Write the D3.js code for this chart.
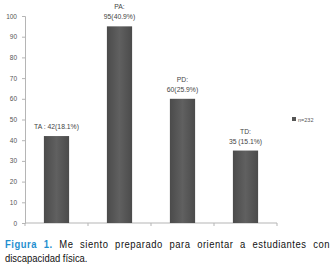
<!DOCTYPE html>
<html>
<head>
<meta charset="utf-8">
<script src="https://cdn.jsdelivr.net/npm/d3@7"></script>
<style>
  body { margin: 0; background: #fff; }
  svg { display: block; font-family: "Liberation Sans", Arial, sans-serif; }
</style>
</head>
<body>
<svg width="336" height="274"></svg>
<script>
// datos
const categories = ["TA", "PA", "PD", "TD"];
const values = [42, 95, 60, 35];
const barLabels = [["TA : 42(18.1%)"], ["PA:", "95(40.9%)"], ["PD:", "60(25.9%)"], ["TD:", "35 (15.1%)"]];
const yTicks = [0, 10, 20, 30, 40, 50, 60, 70, 80, 90, 100];
const legendLabel = "n=232";

const data = categories.map((c, i) => ({ category: c, value: values[i], label: barLabels[i] }));

const svg = d3.select("svg");
const plot = { left: 25, right: 277, top: 16, bottom: 223 };

// escalas
const x = d3.scaleBand()
    .domain(categories)
    .range([plot.left, plot.right])
    .paddingInner(0.6)
    .paddingOuter(0.3);

const y = d3.scaleLinear()
    .domain([0, 100])
    .range([plot.bottom, plot.top]);

// degradado de las barras
const grad = svg.append("defs").append("linearGradient")
    .attr("id", "barGrad")
    .attr("x1", "0%").attr("x2", "100%");
grad.append("stop").attr("offset", "0%").attr("stop-color", "#4b4b4b");
grad.append("stop").attr("offset", "50%").attr("stop-color", "#606060");
grad.append("stop").attr("offset", "100%").attr("stop-color", "#4b4b4b");

// eje Y
const yAxis = svg.append("g")
    .attr("transform", `translate(${plot.left},0)`)
    .call(d3.axisLeft(y).tickValues(yTicks).tickSize(3).tickPadding(5));
yAxis.select(".domain").attr("stroke", "#b5b5b5");
yAxis.selectAll(".tick line").attr("stroke", "#b5b5b5");
yAxis.selectAll(".tick text")
    .attr("fill", "#555")
    .style("font-size", "6.5px");

// eje X (solo línea y marcas entre categorías)
const xLine = svg.append("g");
xLine.append("line")
    .attr("x1", plot.left).attr("x2", plot.right)
    .attr("y1", plot.bottom).attr("y2", plot.bottom)
    .attr("stroke", "#b5b5b5");
const boundaries = d3.range(categories.length + 1).map(i => plot.left + i * (plot.right - plot.left) / categories.length);
xLine.selectAll(".xt")
    .data(boundaries)
    .enter().append("line")
    .attr("class", "xt")
    .attr("x1", d => d).attr("x2", d => d)
    .attr("y1", plot.bottom).attr("y2", plot.bottom + 3)
    .attr("stroke", "#b5b5b5");

// barras
svg.selectAll(".bar")
    .data(data)
    .enter().append("rect")
    .attr("class", "bar")
    .attr("x", d => x(d.category))
    .attr("y", d => y(d.value))
    .attr("width", x.bandwidth())
    .attr("height", d => y(0) - y(d.value))
    .attr("fill", "url(#barGrad)");

// etiquetas de las barras
svg.selectAll(".label")
    .data(data)
    .enter().append("text")
    .attr("class", "label")
    .attr("text-anchor", "middle")
    .attr("fill", "#444")
    .style("font-size", "6.8px")
    .each(function(d) {
        const t = d3.select(this);
        const n = d.label.length;
        d.label.forEach((line, i) => {
            t.append("tspan")
                .attr("x", x(d.category) + x.bandwidth() / 2)
                .attr("y", y(d.value) - 7 - (n - 1 - i) * 10)
                .text(line);
        });
    });

// leyenda
svg.append("rect")
    .attr("x", 292).attr("y", 117)
    .attr("width", 4).attr("height", 4)
    .attr("fill", "#555");
svg.append("text")
    .attr("x", 298).attr("y", 121.5)
    .attr("fill", "#555")
    .style("font-size", "5.5px")
    .text(legendLabel);

// pie de figura (letra estrecha: escala horizontal, línea justificada)
const sx = 0.86;
const cap1 = svg.append("text")
    .attr("transform", `translate(5,248) scale(${sx},1)`)
    .style("font-size", "11px")
    .style("letter-spacing", "0.6px");
cap1.append("tspan").attr("fill", "#1f8fcf").attr("font-weight", "bold").text("Figura 1.");
cap1.append("tspan").attr("fill", "#111").text(" Me siento preparado para orientar a estudiantes con");
const natural = cap1.node().getComputedTextLength();
const spaces = cap1.text().split(" ").length - 1;
cap1.style("word-spacing", ((325 / sx - natural) / spaces) + "px");

svg.append("text")
    .attr("transform", `translate(5,262) scale(${sx},1)`)
    .attr("fill", "#111")
    .style("font-size", "11px")
    .text("discapacidad física.");
</script>
</body>
</html>
